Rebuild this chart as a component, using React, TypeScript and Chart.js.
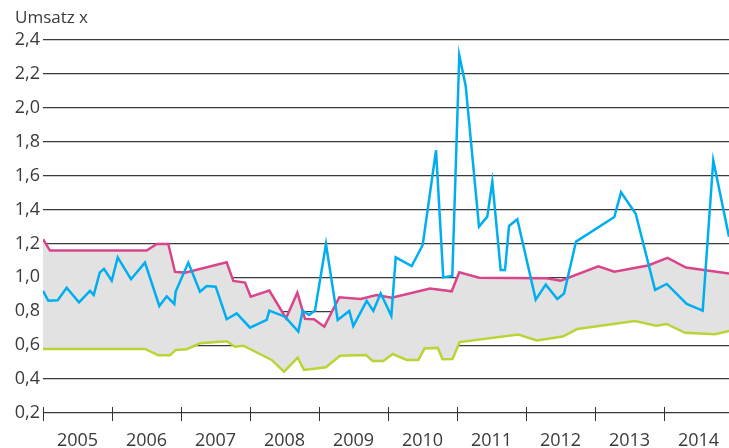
import React, { useEffect, useRef } from "react";
import { Chart, registerables } from "chart.js";

Chart.register(...registerables);

const title = "Umsatz x";
const yearTicks = [2005, 2006, 2007, 2008, 2009, 2010, 2011, 2012, 2013, 2014];
const yearLabels = ["2005", "2006", "2007", "2008", "2009", "2010", "2011", "2012", "2013", "2014"];

const blueX = [2005.0, 2005.077, 2005.213, 2005.343, 2005.522, 2005.681, 2005.735, 2005.822, 2005.884, 2005.996, 2006.083, 2006.275, 2006.478, 2006.686, 2006.793, 2006.903, 2006.923, 2007.106, 2007.275, 2007.372, 2007.503, 2007.662, 2007.807, 2008.0, 2008.242, 2008.28, 2008.507, 2008.7, 2008.764, 2008.855, 2008.942, 2009.101, 2009.271, 2009.439, 2009.497, 2009.691, 2009.787, 2009.894, 2010.048, 2010.112, 2010.343, 2010.503, 2010.696, 2010.801, 2010.932, 2011.033, 2011.126, 2011.319, 2011.439, 2011.512, 2011.633, 2011.696, 2011.754, 2011.874, 2012.141, 2012.286, 2012.454, 2012.551, 2012.725, 2013.28, 2013.377, 2013.59, 2013.87, 2014.039, 2014.329, 2014.561, 2014.714, 2014.942];
const blueY = [0.92, 0.862, 0.865, 0.939, 0.853, 0.92, 0.896, 1.028, 1.05, 0.98, 1.118, 0.989, 1.087, 0.831, 0.888, 0.843, 0.916, 1.087, 0.916, 0.949, 0.945, 0.753, 0.788, 0.703, 0.749, 0.804, 0.768, 0.68, 0.804, 0.778, 0.804, 1.197, 0.749, 0.802, 0.713, 0.861, 0.802, 0.906, 0.772, 1.118, 1.067, 1.191, 1.75, 1.0, 1.008, 2.31, 2.129, 1.299, 1.358, 1.565, 1.044, 1.044, 1.303, 1.343, 0.869, 0.957, 0.872, 0.904, 1.211, 1.356, 1.502, 1.375, 0.926, 0.961, 0.843, 0.804, 1.69, 1.24];

const pinkX = [2005.0, 2005.101, 2006.503, 2006.648, 2006.816, 2006.913, 2007.058, 2007.662, 2007.758, 2007.928, 2008.01, 2008.28, 2008.522, 2008.686, 2008.797, 2008.928, 2009.077, 2009.294, 2009.604, 2009.836, 2010.054, 2010.609, 2010.923, 2011.033, 2011.319, 2012.3, 2012.503, 2013.048, 2013.28, 2013.768, 2014.051, 2014.319, 2014.942];
const pinkY = [1.225, 1.158, 1.158, 1.197, 1.197, 1.032, 1.028, 1.089, 0.979, 0.969, 0.886, 0.922, 0.759, 0.91, 0.755, 0.753, 0.709, 0.883, 0.873, 0.896, 0.88, 0.934, 0.918, 1.03, 0.998, 0.995, 0.98, 1.065, 1.033, 1.07, 1.115, 1.058, 1.023];

const greenX = [2005.0, 2006.478, 2006.671, 2006.841, 2006.923, 2007.083, 2007.275, 2007.662, 2007.783, 2007.903, 2008.314, 2008.493, 2008.691, 2008.783, 2009.101, 2009.304, 2009.681, 2009.778, 2009.932, 2010.068, 2010.271, 2010.439, 2010.529, 2010.722, 2010.79, 2010.935, 2011.039, 2011.888, 2012.155, 2012.532, 2012.743, 2013.58, 2013.884, 2014.039, 2014.304, 2014.739, 2014.942];
const greenY = [0.578, 0.578, 0.54, 0.54, 0.572, 0.576, 0.611, 0.623, 0.591, 0.597, 0.513, 0.444, 0.526, 0.454, 0.47, 0.538, 0.542, 0.507, 0.507, 0.548, 0.513, 0.513, 0.58, 0.584, 0.517, 0.518, 0.618, 0.663, 0.628, 0.651, 0.695, 0.742, 0.715, 0.725, 0.673, 0.664, 0.684];

const xMin = 2005;
const xMax = 2014.942;
const yMin = 0.2;
const yMax = 2.4;

const FONT = "'Open Sans', 'DejaVu Sans', sans-serif";
const TEXT = "#3a3a3a";

const toPoints = (xs: number[], ys: number[]) => xs.map((x, i) => ({ x, y: ys[i] }));

const decorPlugin = {
  id: "decor",
  afterDraw(chart: any) {
    const { ctx, chartArea, scales } = chart;
    const xs = scales.x;
    ctx.save();
    ctx.strokeStyle = "#333";
    ctx.lineWidth = 1;
    yearTicks.forEach((yr) => {
      const px = Math.round(xs.getPixelForValue(yr)) + 0.5;
      ctx.beginPath();
      ctx.moveTo(px, chartArea.bottom - 6);
      ctx.lineTo(px, chartArea.bottom + 8);
      ctx.stroke();
    });
    ctx.fillStyle = TEXT;
    ctx.font = `18px ${FONT}`;
    ctx.textAlign = "center";
    ctx.textBaseline = "alphabetic";
    yearTicks.forEach((yr, i) => {
      const px = xs.getPixelForValue(yr + 0.5);
      ctx.fillText(yearLabels[i], px, chartArea.bottom + 33);
    });
    ctx.textAlign = "left";
    ctx.textBaseline = "middle";
    ctx.font = `17px ${FONT}`;
    ctx.fillText(title, 15, 18);
    ctx.restore();
  },
};

export default function App() {
  const ref = useRef<HTMLCanvasElement | null>(null);
  useEffect(() => {
    if (!ref.current) return;
    const chart = new Chart(ref.current, {
      type: "line",
      data: {
        datasets: [
          {
            label: "Umsatz",
            data: toPoints(blueX, blueY),
            borderColor: "#00aeef",
            borderWidth: 2.5,
            pointRadius: 0,
            tension: 0,
            fill: false,
          },
          {
            label: "Oben",
            data: toPoints(pinkX, pinkY),
            borderColor: "#d9448b",
            backgroundColor: "#e2e2e2",
            borderWidth: 2.5,
            pointRadius: 0,
            tension: 0,
            fill: "+1",
          },
          {
            label: "Unten",
            data: toPoints(greenX, greenY),
            borderColor: "#b9d436",
            borderWidth: 2.5,
            pointRadius: 0,
            tension: 0,
            fill: false,
          },
        ],
      },
      options: {
        animation: false,
        responsive: false,
        layout: { padding: { top: 40, bottom: 35, left: 0, right: 0 } },
        plugins: {
          legend: { display: false },
          tooltip: { enabled: false },
          filler: { drawTime: "beforeDatasetsDraw" },
        },
        scales: {
          x: {
            type: "linear",
            min: xMin,
            max: xMax,
            display: false,
          },
          y: {
            min: yMin,
            max: yMax,
            afterFit: (s: any) => {
              s.width = 43;
            },
            border: { display: false },
            grid: { color: "#3a3a3a", lineWidth: 1.2, drawTicks: false },
            ticks: {
              stepSize: 0.2,
              padding: 3,
              color: TEXT,
              font: { family: FONT, size: 18 },
              callback: (v: any) => Number(v).toFixed(1).replace(".", ","),
            },
          },
        },
      },
      plugins: [decorPlugin],
    });
    return () => chart.destroy();
  }, []);
  return (
    <div style={{ position: "fixed", left: 0, top: 0, width: 729, height: 448, background: "#fff" }}>
      <canvas ref={ref} width={729} height={448} style={{ display: "block" }} />
    </div>
  );
}
